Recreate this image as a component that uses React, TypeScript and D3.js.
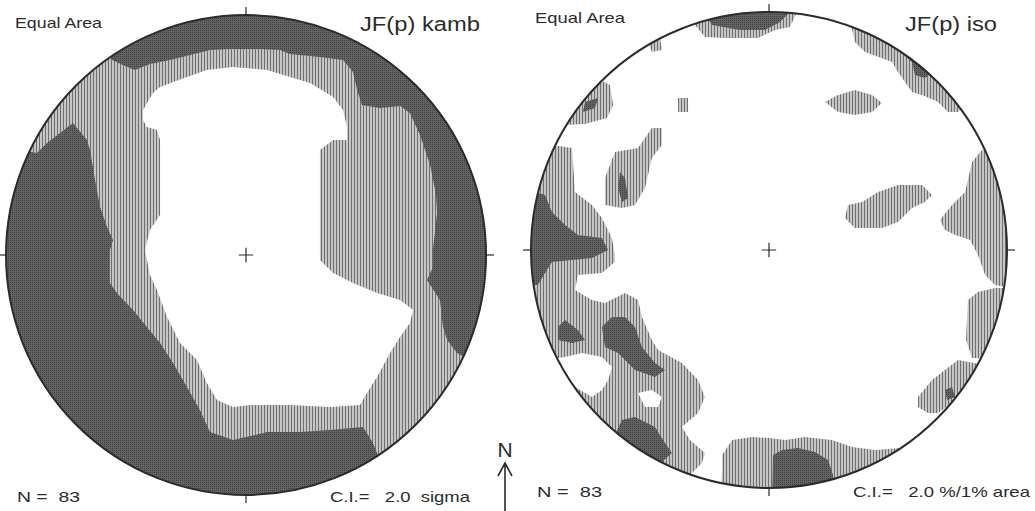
import { useEffect, useRef } from 'react'
import * as d3 from 'd3'

type Pt = [number, number]

// Contour outlines in net coordinates (unit circle, x = east, y = north)

// Kamb net: everything outside the first contour is the dark (high) band
const kambMid: Pt[] = [
  [-0.629, 0.896], [-0.558, 0.813], [-0.504, 0.788], [-0.463, 0.771], [-0.4, 0.796],
  [-0.317, 0.813], [-0.233, 0.833], [-0.15, 0.854], [-0.067, 0.858], [0.058, 0.858],
  [0.142, 0.854], [0.183, 0.838], [0.308, 0.825], [0.404, 0.813], [0.446, 0.763],
  [0.463, 0.688], [0.483, 0.625], [0.558, 0.613], [0.642, 0.621], [0.683, 0.592],
  [0.725, 0.5], [0.767, 0.375], [0.792, 0.25], [0.796, 0.175], [0.779, 0.021],
  [0.779, -0.05], [0.754, -0.104], [0.808, -0.188], [0.821, -0.3], [0.838, -0.354],
  [0.879, -0.408], [0.933, -0.438], [1.058, -0.438], [1.058, -0.896], [0.579, -0.896],
  [0.546, -0.825], [0.529, -0.783], [0.488, -0.717], [0.35, -0.729], [0.225, -0.738],
  [0.088, -0.738], [-0.054, -0.771], [-0.15, -0.738], [-0.192, -0.646], [-0.246, -0.55],
  [-0.304, -0.45], [-0.358, -0.367], [-0.413, -0.3], [-0.471, -0.229], [-0.538, -0.158],
  [-0.567, -0.117], [-0.567, 0.021], [-0.554, 0.063], [-0.579, 0.117], [-0.608, 0.2],
  [-0.629, 0.313], [-0.65, 0.438], [-0.663, 0.479], [-0.721, 0.55], [-0.775, 0.508],
  [-0.829, 0.467], [-0.871, 0.425], [-0.942, 0.438], [-0.942, 0.896],
]

const kambLow: Pt[] = [
  [-0.429, 0.604], [-0.388, 0.675], [-0.358, 0.7], [-0.246, 0.742], [-0.163, 0.771],
  [-0.054, 0.783], [0.088, 0.771], [0.183, 0.742], [0.267, 0.717], [0.363, 0.658],
  [0.404, 0.604], [0.421, 0.533], [0.421, 0.479], [0.363, 0.479], [0.308, 0.438],
  [0.308, 0.229], [0.308, 0.033], [0.308, -0.021], [0.363, -0.075], [0.446, -0.117],
  [0.546, -0.158], [0.642, -0.188], [0.696, -0.229], [0.683, -0.283], [0.642, -0.342],
  [0.6, -0.408], [0.546, -0.508], [0.504, -0.575], [0.475, -0.625], [0.35, -0.633],
  [0.183, -0.625], [0.017, -0.625], [-0.054, -0.633], [-0.121, -0.604], [-0.163, -0.533],
  [-0.204, -0.438], [-0.275, -0.367], [-0.329, -0.258], [-0.371, -0.146], [-0.4, -0.083],
  [-0.421, 0.021], [-0.4, 0.104], [-0.358, 0.167], [-0.358, 0.479], [-0.371, 0.521],
  [-0.413, 0.533], [-0.429, 0.563],
]

// Iso net: first-contour (light) patches
const isoTop: Pt[] = [
  [-0.332, 1.008], [-0.311, 0.945], [-0.269, 0.895], [-0.185, 0.891], [-0.046, 0.891],
  [0.025, 0.924], [0.088, 0.937], [0.118, 1.0], [0.118, 1.05], [-0.332, 1.05],
]
const isoSpeck: Pt[] = [[-0.508, 0.874], [-0.458, 0.891], [-0.45, 0.84], [-0.492, 0.832]]
const isoCross: Pt[] = [[-0.382, 0.639], [-0.34, 0.639], [-0.34, 0.58], [-0.382, 0.58]]
const isoNW: Pt[] = [
  [-0.878, 0.588], [-0.773, 0.714], [-0.71, 0.714], [-0.668, 0.693], [-0.655, 0.609],
  [-0.681, 0.555], [-0.773, 0.529], [-0.857, 0.525],
]
const isoDiag: Pt[] = [
  [-0.689, 0.189], [-0.689, 0.303], [-0.647, 0.412], [-0.55, 0.429], [-0.492, 0.513],
  [-0.45, 0.513], [-0.45, 0.441], [-0.492, 0.387], [-0.521, 0.261], [-0.563, 0.189],
  [-0.618, 0.176],
]
const isoWest: Pt[] = [
  [-1.046, 0.462], [-0.912, 0.441], [-0.828, 0.429], [-0.815, 0.244], [-0.744, 0.189],
  [-0.702, 0.134], [-0.66, 0.05], [-0.647, -0.021], [-0.647, -0.05], [-0.702, -0.097],
  [-0.803, -0.105], [-0.815, -0.168], [-0.744, -0.21], [-0.689, -0.223], [-0.605, -0.181],
  [-0.55, -0.21], [-0.534, -0.282], [-0.492, -0.378], [-0.466, -0.42], [-0.366, -0.475],
  [-0.298, -0.546], [-0.269, -0.618], [-0.298, -0.685], [-0.366, -0.744], [-0.332, -0.798],
  [-0.269, -0.853], [-0.282, -0.895], [-0.332, -0.945], [-0.458, -0.966], [-1.046, -0.966],
]
const isoSouth: Pt[] = [
  [-0.197, -0.924], [-0.197, -0.861], [-0.155, -0.798], [-0.071, -0.786], [0.004, -0.79],
  [0.067, -0.798], [0.151, -0.786], [0.265, -0.798], [0.349, -0.828], [0.445, -0.84],
  [0.55, -0.832], [0.571, -1.05], [-0.206, -1.05],
]
const isoEast: Pt[] = [
  [0.836, -0.21], [0.878, -0.176], [0.95, -0.16], [1.034, -0.16], [1.034, -0.462],
  [0.853, -0.454], [0.828, -0.378],
]
const isoSE: Pt[] = [
  [0.626, -0.618], [0.685, -0.546], [0.739, -0.504], [0.794, -0.462], [0.908, -0.483],
  [0.866, -0.609], [0.769, -0.643], [0.71, -0.685], [0.668, -0.685], [0.626, -0.66],
]
const isoENE: Pt[] = [
  [0.718, 0.126], [0.769, 0.189], [0.824, 0.244], [0.853, 0.37], [0.895, 0.42],
  [0.971, 0.441], [1.055, 0.441], [1.055, -0.168], [0.95, -0.147], [0.908, -0.105],
  [0.878, -0.021], [0.845, 0.042], [0.782, 0.063], [0.739, 0.084],
]
const isoNE: Pt[] = [
  [0.34, 0.966], [0.361, 0.874], [0.403, 0.832], [0.517, 0.79], [0.542, 0.748],
  [0.571, 0.706], [0.601, 0.664], [0.643, 0.651], [0.71, 0.622], [0.752, 0.58],
  [0.794, 0.58], [0.866, 0.63], [0.55, 1.008],
]
const isoNNE: Pt[] = [
  [0.235, 0.622], [0.29, 0.651], [0.361, 0.672], [0.433, 0.651], [0.475, 0.618],
  [0.433, 0.58], [0.361, 0.567], [0.29, 0.58],
]
const isoMidE: Pt[] = [
  [0.319, 0.134], [0.332, 0.189], [0.391, 0.202], [0.458, 0.244], [0.542, 0.273],
  [0.643, 0.273], [0.685, 0.231], [0.655, 0.202], [0.601, 0.176], [0.542, 0.118],
  [0.475, 0.092], [0.361, 0.092],
]

// Iso net: second-contour (dark) cores
const isoTopCore: Pt[] = [
  [-0.269, 0.987], [-0.239, 0.945], [-0.122, 0.924], [-0.017, 0.924], [0.046, 0.958],
  [0.088, 1.0], [0.088, 1.05], [-0.269, 1.05],
]
const isoNWCore: Pt[] = [[-0.773, 0.622], [-0.718, 0.639], [-0.731, 0.597], [-0.782, 0.58]]
const isoDiagCore: Pt[] = [[-0.626, 0.328], [-0.605, 0.303], [-0.592, 0.218], [-0.618, 0.202], [-0.634, 0.261]]
const isoWestCoreA: Pt[] = [
  [-0.983, 0.244], [-0.941, 0.231], [-0.912, 0.16], [-0.857, 0.105], [-0.803, 0.063],
  [-0.702, 0.05], [-0.676, 0], [-0.744, -0.034], [-0.828, -0.042], [-0.912, -0.05],
  [-0.941, -0.097], [-0.971, -0.147], [-1.046, -0.147], [-1.046, 0.252],
]
const isoWestCoreB: Pt[] = [
  [-0.887, -0.324], [-0.857, -0.294], [-0.803, -0.336], [-0.773, -0.378], [-0.828, -0.391],
  [-0.887, -0.378],
]
const isoWestCoreC: Pt[] = [
  [-0.702, -0.324], [-0.66, -0.282], [-0.605, -0.282], [-0.563, -0.324], [-0.534, -0.408],
  [-0.479, -0.475], [-0.437, -0.504], [-0.479, -0.534], [-0.563, -0.504], [-0.634, -0.433],
  [-0.689, -0.408],
]
const isoSWCore: Pt[] = [
  [-0.618, -0.714], [-0.563, -0.702], [-0.479, -0.744], [-0.437, -0.811], [-0.408, -0.853],
  [-0.45, -0.891], [-0.542, -0.882], [-0.668, -0.819],
]
const isoSouthCore: Pt[] = [
  [0.013, -1.05], [0.017, -0.861], [0.055, -0.84], [0.122, -0.832], [0.193, -0.849],
  [0.248, -0.882], [0.269, -0.945], [0.277, -1.05],
]
const isoSECore: Pt[] = [[0.739, -0.588], [0.769, -0.576], [0.782, -0.618], [0.748, -0.63]]
const isoNECore: Pt[] = [
  [0.424, 0.945], [0.466, 0.882], [0.542, 0.84], [0.601, 0.79], [0.613, 0.735],
  [0.655, 0.723], [0.697, 0.756], [0.676, 0.819], [0.55, 0.924],
]

// Iso net: gaps (below first contour) inside the western patch
const isoGapA: Pt[] = [
  [-0.857, -0.45], [-0.786, -0.433], [-0.702, -0.45], [-0.66, -0.492], [-0.676, -0.546],
  [-0.702, -0.588], [-0.744, -0.618], [-0.815, -0.576], [-0.887, -0.517], [-0.941, -0.546],
  [-0.941, -0.462],
]
const isoGapB: Pt[] = [[-0.55, -0.601], [-0.492, -0.588], [-0.45, -0.618], [-0.466, -0.66], [-0.521, -0.66]]

const kambLayers = [
  { level: 'mid', pts: kambMid },
  { level: 'low', pts: kambLow },
]
const isoLayers = [
  ...[isoTop, isoSpeck, isoCross, isoNW, isoDiag, isoWest, isoSouth, isoEast, isoSE, isoENE, isoNE, isoNNE, isoMidE]
    .map((pts) => ({ level: 'mid', pts })),
  ...[isoTopCore, isoNWCore, isoDiagCore, isoWestCoreA, isoWestCoreB, isoWestCoreC, isoSWCore, isoSouthCore, isoSECore, isoNECore]
    .map((pts) => ({ level: 'high', pts })),
  ...[isoGapA, isoGapB].map((pts) => ({ level: 'low', pts })),
]

const nets = [
  {
    id: 'kamb', cx: 246, cy: 255, r: 240, base: 'high', layers: kambLayers,
    title: 'JF(p) kamb', titleX: 480, titleY: 31, titleW: 120,
    projX: 15, projY: 28, projW: 87,
    nX: 17, nY: 502, nW: 63,
    ci: 'C.I.=   2.0  sigma', ciX: 470, ciY: 502, ciW: 140,
  },
  {
    id: 'iso', cx: 769, cy: 250, r: 238, base: 'low', layers: isoLayers,
    title: 'JF(p) iso', titleX: 997, titleY: 31, titleW: 92,
    projX: 535, projY: 23, projW: 90,
    nX: 537, nY: 497, nW: 65,
    ci: 'C.I.=   2.0 %/1% area', ciX: 1030, ciY: 497, ciW: 177,
  },
]

const FONT = '"Liberation Sans", Arial, sans-serif'
const INK = '#2b2b2b'

export default function App() {
  const svgRef = useRef<SVGSVGElement>(null)

  useEffect(() => {
    document.body.style.margin = '0'
    const svg = d3.select(svgRef.current)
    svg.selectAll('*').remove()

    // stipple textures like the scanned plot
    const defs = svg.append('defs')
    const low = defs.append('pattern').attr('id', 'pat-mid').attr('patternUnits', 'userSpaceOnUse')
      .attr('width', 3).attr('height', 2)
    low.append('rect').attr('width', 3).attr('height', 2).attr('fill', '#c6c6c6')
    low.append('rect').attr('width', 1).attr('height', 2).attr('fill', '#6e6e6e')
    const high = defs.append('pattern').attr('id', 'pat-high').attr('patternUnits', 'userSpaceOnUse')
      .attr('width', 2).attr('height', 2)
    high.append('rect').attr('width', 2).attr('height', 2).attr('fill', '#636363')
    high.append('rect').attr('width', 1).attr('height', 1).attr('fill', '#404040')

    const fills: Record<string, string> = {
      low: '#fff',
      mid: 'url(#pat-mid)',
      high: 'url(#pat-high)',
    }

    const addText = (txt: string, x: number, y: number, size: number, w: number, anchor = 'start') =>
      svg.append('text')
        .attr('x', x).attr('y', y)
        .attr('text-anchor', anchor)
        .attr('textLength', w)
        .attr('lengthAdjust', 'spacingAndGlyphs')
        .style('font-family', FONT)
        .style('font-size', `${size}px`)
        .style('white-space', 'pre')
        .attr('fill', INK)
        .text(txt)

    nets.forEach((net) => {
      const x = d3.scaleLinear().domain([-1, 1]).range([net.cx - net.r, net.cx + net.r])
      const y = d3.scaleLinear().domain([-1, 1]).range([net.cy + net.r, net.cy - net.r])
      const line = d3.line<Pt>().x((d) => x(d[0])).y((d) => y(d[1])).curve(d3.curveLinearClosed)

      defs.append('clipPath').attr('id', `clip-${net.id}`)
        .append('circle').attr('cx', net.cx).attr('cy', net.cy).attr('r', net.r)

      const g = svg.append('g').attr('clip-path', `url(#clip-${net.id})`)
      g.append('circle').attr('cx', net.cx).attr('cy', net.cy).attr('r', net.r).attr('fill', fills[net.base])
      net.layers.forEach((l) => {
        g.append('path').attr('d', line(l.pts)).attr('fill', fills[l.level])
      })

      // primitive circle
      svg.append('circle').attr('cx', net.cx).attr('cy', net.cy).attr('r', net.r)
        .attr('fill', 'none').attr('stroke', INK).attr('stroke-width', 2)

      // N/E/S/W ticks
      const ticks: Pt[] = [[0, 1], [1, 0], [0, -1], [-1, 0]]
      ticks.forEach(([dx, dy]) => {
        const k = 1 + 8 / net.r
        svg.append('line')
          .attr('x1', x(dx)).attr('y1', y(dy))
          .attr('x2', x(dx * k)).attr('y2', y(dy * k))
          .attr('stroke', INK).attr('stroke-width', 1.2)
      })

      // centre cross
      svg.append('path')
        .attr('d', `M${x(-0.03)},${y(0)}H${x(0.03)}M${x(0)},${y(0.03)}V${y(-0.03)}`)
        .attr('stroke', INK).attr('stroke-width', 1.2)

      addText('Equal Area', net.projX, net.projY, 15, net.projW)
      addText(net.title, net.titleX, net.titleY, 20, net.titleW, 'end')
      addText('N =  83', net.nX, net.nY, 15, net.nW)
      addText(net.ci, net.ciX, net.ciY, 15, net.ciW, 'end')
    })

    // north arrow
    svg.append('text')
      .attr('x', 505).attr('y', 457)
      .attr('text-anchor', 'middle')
      .style('font-family', FONT).style('font-size', '21px')
      .attr('fill', INK)
      .text('N')
    svg.append('path')
      .attr('d', 'M505,511V463M498,476L505,463L512,476')
      .attr('fill', 'none').attr('stroke', INK).attr('stroke-width', 1.6)
  }, [])

  return <svg ref={svgRef} width={1035} height={511} style={{ display: 'block', background: '#fff' }} />
}
